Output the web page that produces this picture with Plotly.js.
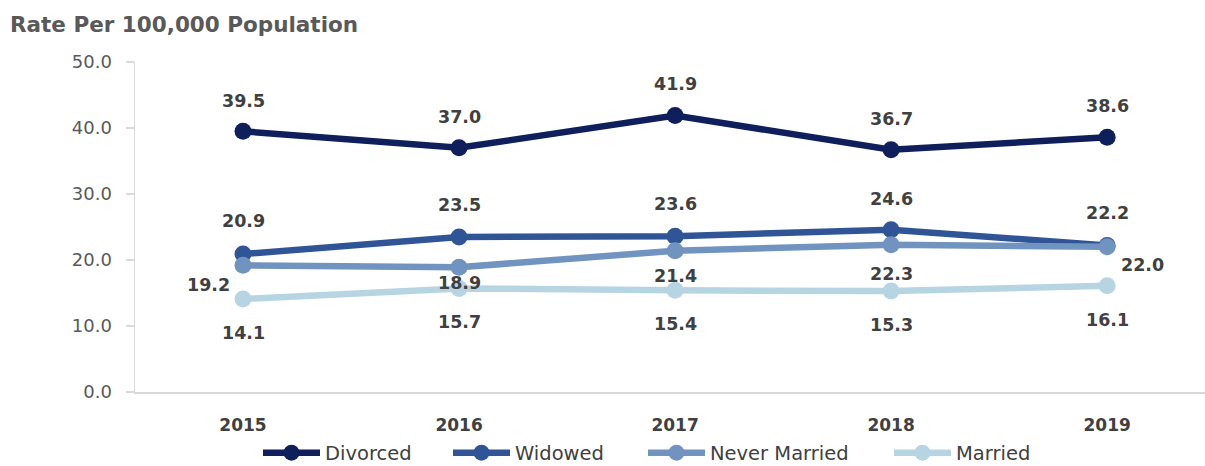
<!DOCTYPE html>
<html>
<head>
<meta charset="utf-8">
<script src="https://cdn.plot.ly/plotly-3.0.1.min.js"></script>
<style>
html,body{margin:0;padding:0;background:#fff;}
#chart{width:1205px;height:466px;}
</style>
</head>
<body>
<div id="chart"></div>
<script>
// ---- data ----
const years = ["2015", "2016", "2017", "2018", "2019"];
const seriesNames = ["Divorced", "Widowed", "Never Married", "Married"];
const divorced = [39.5, 37.0, 41.9, 36.7, 38.6];
const widowed = [20.9, 23.5, 23.6, 24.6, 22.2];
const neverMarried = [19.2, 18.9, 21.4, 22.3, 22.0];
const married = [14.1, 15.7, 15.4, 15.3, 16.1];
const yTicks = [0, 10, 20, 30, 40, 50];

// ---- styles ----
const colors = ["#0e1f5b", "#2f5597", "#7093bf", "#b7d4e3"];
const legendIds = ["legend", "legend2", "legend3", "legend4"];
const legendLeftPx = [258, 448, 643, 889];
const labelShiftX = [
  [0, 0, 0, 0, 0],
  [0, 0, 0, 0, 0],
  [-35, 0, 0, 0, 35],
  [0, 0, 0, 0, 0]
];
const labelShiftY = [
  [30, 31, 31, 31, 31],
  [33, 32, 32, 31, 32],
  [-20, -16, -25, -29, -18],
  [-34, -34, -34, -34, -34]
];

const allSeries = [divorced, widowed, neverMarried, married];

const traces = allSeries.map((vals, i) => ({
  type: "scatter",
  mode: "lines+markers",
  name: seriesNames[i],
  legend: legendIds[i],
  x: years,
  y: vals,
  line: {color: colors[i], width: 6.5},
  marker: {color: colors[i], size: 17},
  hoverinfo: "skip",
  cliponaxis: false
}));

const annotations = [];
allSeries.forEach((vals, i) => {
  vals.forEach((v, j) => {
    annotations.push({
      x: j, y: v, xref: "x", yref: "y",
      text: "<b>" + v.toFixed(1) + "</b>",
      showarrow: false,
      xshift: labelShiftX[i][j],
      yshift: labelShiftY[i][j],
      font: {family: "DejaVu Sans", size: 17.5, color: "#404040"}
    });
  });
});

function legendSpec(i) {
  return {
    orientation: "h",
    xref: "container", yref: "container",
    x: legendLeftPx[i] / 1205, xanchor: "left",
    y: 1 - 453 / 466, yanchor: "middle",
    font: {family: "DejaVu Sans", size: 19.5, color: "#404040"},
    itemwidth: 57,
    bgcolor: "rgba(0,0,0,0)"
  };
}

const layout = {
  width: 1205, height: 466,
  margin: {l: 135, r: 0, t: 62, b: 74},
  paper_bgcolor: "#fff", plot_bgcolor: "#fff",
  title: {
    text: "<b>Rate Per 100,000 Population</b>",
    font: {family: "DejaVu Sans", size: 21.5, color: "#595959"},
    xref: "container", yref: "container",
    x: 10 / 1205, xanchor: "left",
    y: 1 - 24 / 466, yanchor: "middle"
  },
  showlegend: true,
  legend: legendSpec(0),
  legend2: legendSpec(1),
  legend3: legendSpec(2),
  legend4: legendSpec(3),
  xaxis: {
    type: "category",
    range: [-0.5, 4.453],
    showgrid: false,
    zeroline: false,
    showline: true,
    linecolor: "#d9d9d9",
    linewidth: 1.5,
    ticks: "",
    ticklabelstandoff: 17,
    tickfont: {family: "DejaVu Sans", size: 17, color: "#404040", weight: "bold"},
    fixedrange: true
  },
  yaxis: {
    range: [0, 50],
    tickvals: yTicks,
    ticktext: yTicks.map(v => v.toFixed(1)),
    showgrid: false,
    zeroline: false,
    showline: true,
    linecolor: "#d9d9d9",
    linewidth: 1.5,
    ticks: "outside",
    ticklen: 8,
    tickcolor: "#d9d9d9",
    tickwidth: 1.5,
    ticklabelstandoff: 10,
    tickfont: {family: "DejaVu Sans", size: 18, color: "#595959"},
    fixedrange: true
  },
  annotations: annotations
};

Plotly.newPlot("chart", traces, layout, {displayModeBar: false, staticPlot: true});
</script>
</body>
</html>
